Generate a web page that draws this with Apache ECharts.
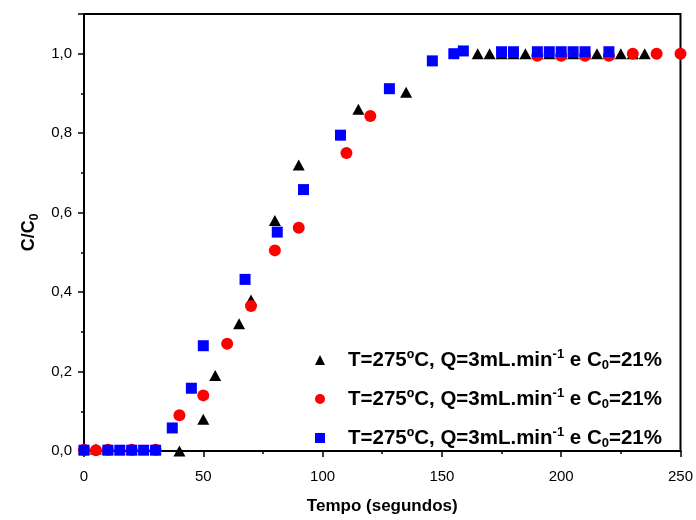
<!DOCTYPE html>
<html>
<head>
<meta charset="utf-8">
<script src="https://cdn.jsdelivr.net/npm/echarts/dist/echarts.min.js"></script>
<style>
  html, body { margin: 0; padding: 0; background: #fff; }
  #chart { width: 696px; height: 520px; }
</style>
</head>
<body>
<div id="chart"></div>
<script>
// Breakthrough curves: C/C0 against time (s)
var serieNomes = ['ensaio1', 'ensaio2', 'ensaio3'];
var legendaTexto = '{gap| }{b|T=275ºC, Q=3mL.min}{sup|-1}{b| e C}{sub|0}{b|=21%}';

// run 1 (triangles)
var tempo1 = [0, 5, 10, 20, 30, 40, 50, 55, 65, 70, 80, 90, 115, 135,
              165, 170, 175, 180, 185, 190, 195, 200, 205, 210, 215, 220, 225, 230, 235];
var conc1  = [0.005, 0.005, 0.005, 0.005, 0.005, 0.0, 0.08, 0.19, 0.32, 0.38, 0.58, 0.72, 0.86, 0.903,
              1.0, 1.0, 1.0, 1.0, 1.0, 1.0, 1.0, 1.0, 1.0, 1.0, 1.0, 1.0, 1.0, 1.0, 1.0];

// run 2 (circles)
var tempo2 = [0, 5, 10, 20, 30, 40, 50, 60, 70, 80, 90, 110, 120,
              190, 200, 210, 220, 230, 240, 250];
var conc2  = [0.003, 0.002, 0.003, 0.003, 0.003, 0.09, 0.14, 0.27, 0.365, 0.505, 0.562, 0.75, 0.843,
              0.995, 0.995, 0.995, 0.995, 1.0, 1.0, 1.0];

// run 3 (squares)
var tempo3 = [0, 10, 15, 20, 25, 30, 37, 45, 50, 67.5, 81, 92, 107.5, 128, 146, 155, 159,
              175, 180, 190, 195, 200, 205, 210, 220];
var conc3  = [0.002, 0.002, 0.002, 0.002, 0.002, 0.002, 0.058, 0.158, 0.265, 0.432, 0.551, 0.658, 0.795, 0.912, 0.982, 1.0, 1.007,
              1.005, 1.005, 1.005, 1.005, 1.005, 1.005, 1.005, 1.005];

var xTicks = { min: 0, max: 250, interval: 50 };
var yTicks = { min: 0, max: 1.1, interval: 0.2 };

function pares(xs, ys) {
  return xs.map(function (x, i) { return [x, ys[i]]; });
}

var fonte = 'Liberation Sans, Arial, sans-serif';
var chart = echarts.init(document.getElementById('chart'), null, { renderer: 'canvas' });

var eixoLinha = { show: true, onZero: false, lineStyle: { color: '#000', width: 2 } };

chart.setOption({
  animation: false,
  backgroundColor: '#fff',
  grid: { left: 84, right: 13, top: 14, bottom: 68, show: true, borderColor: '#000', borderWidth: 2, containLabel: false },
  legend: {
    orient: 'vertical',
    left: 315,
    top: 348,
    padding: 0,
    itemWidth: 10,
    itemHeight: 10,
    itemGap: 15,
    data: serieNomes,
    formatter: function () { return legendaTexto; },
    textStyle: {
      fontFamily: fonte,
      rich: {
        gap: { width: 18, fontSize: 20, lineHeight: 24 },
        b: { fontSize: 20.5, fontWeight: 'bold', fontFamily: fonte, color: '#000', lineHeight: 24, verticalAlign: 'middle' },
        sup: { fontSize: 13, fontWeight: 'bold', fontFamily: fonte, color: '#000', lineHeight: 24, verticalAlign: 'top', padding: [0, 0, 8, 0] },
        sub: { fontSize: 13, fontWeight: 'bold', fontFamily: fonte, color: '#000', lineHeight: 24, verticalAlign: 'bottom', padding: [8, 0, 0, 0] }
      }
    }
  },
  xAxis: {
    type: 'value',
    min: xTicks.min, max: xTicks.max, interval: xTicks.interval,
    name: 'Tempo (segundos)',
    nameLocation: 'middle',
    nameGap: 47,
    nameTextStyle: { fontFamily: fonte, fontSize: 17, fontWeight: 'bold', color: '#000' },
    axisLine: eixoLinha,
    axisTick: { show: true, inside: false, length: 6, lineStyle: { color: '#000', width: 1.5 } },
    minorTick: { show: true, splitNumber: 2, length: 3, lineStyle: { color: '#000', width: 1.5 } },
    splitLine: { show: false },
    axisLabel: { fontFamily: fonte, fontSize: 15, color: '#000', margin: 18 }
  },
  yAxis: {
    type: 'value',
    min: yTicks.min, max: yTicks.max, interval: yTicks.interval,
    name: '{b|C/C}{sub|0}',
    nameLocation: 'middle',
    nameGap: 42,
    nameTextStyle: {
      rich: {
        b: { fontFamily: fonte, fontSize: 18, fontWeight: 'bold', color: '#000', lineHeight: 22, verticalAlign: 'middle' },
        sub: { fontFamily: fonte, fontSize: 12, fontWeight: 'bold', color: '#000', lineHeight: 22, verticalAlign: 'bottom', padding: [6, 0, 0, 0] }
      }
    },
    axisLine: eixoLinha,
    axisTick: { show: true, inside: false, length: 6, lineStyle: { color: '#000', width: 1.5 } },
    minorTick: { show: true, splitNumber: 2, length: 3, lineStyle: { color: '#000', width: 1.5 } },
    splitLine: { show: false },
    axisLabel: {
      fontFamily: fonte, fontSize: 15, color: '#000', margin: 12,
      showMaxLabel: false,
      formatter: function (v) { return v.toFixed(1).replace('.', ','); }
    }
  },
  series: [
    {
      name: serieNomes[0], type: 'scatter', symbol: 'triangle', symbolSize: [12, 11],
      itemStyle: { color: '#000', opacity: 1 }, z: 2,
      data: pares(tempo1, conc1)
    },
    {
      name: serieNomes[1], type: 'scatter', symbol: 'circle', symbolSize: 12,
      itemStyle: { color: '#ff0000', opacity: 1 }, z: 3,
      data: pares(tempo2, conc2)
    },
    {
      name: serieNomes[2], type: 'scatter', symbol: 'rect', symbolSize: 11,
      itemStyle: { color: '#0000ff', opacity: 1 }, z: 4,
      data: pares(tempo3, conc3)
    }
  ]
});
</script>
</body>
</html>
